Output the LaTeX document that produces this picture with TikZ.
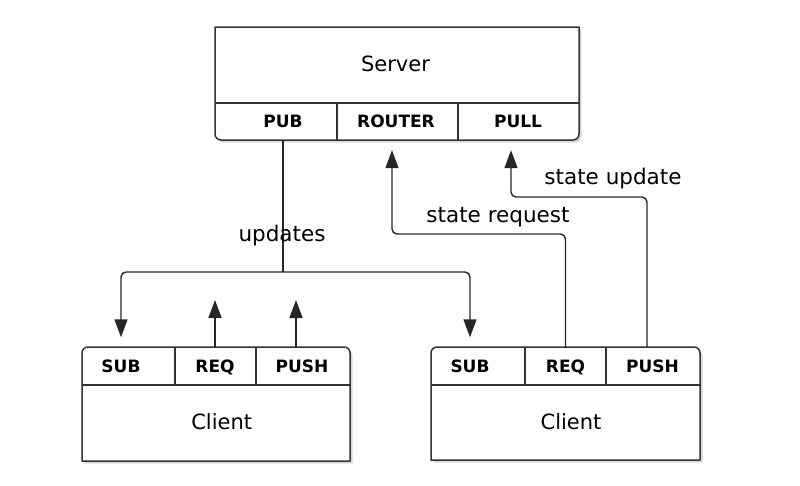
\documentclass[tikz,border=0pt]{standalone}
\usepackage{fontspec}
\setmainfont{DejaVu Sans}
\usetikzlibrary{arrows.meta,shadows}
\tikzset{
  boxshape/.style={draw=black!80,line width=1.5pt,fill=white,
    drop shadow={shadow xshift=2.5pt,shadow yshift=-2.5pt,fill=black!30}},
  divider/.style={draw=black!80,line width=1.3pt},
  boxtitle/.style={font=\fontsize{21}{25}\selectfont,anchor=base},
  socket/.style={font=\bfseries\fontsize{17}{20}\selectfont,minimum height=37pt,
    inner sep=0pt,text height=12.4pt,text depth=0pt},
  lbl/.style={font=\fontsize{21.5}{25}\selectfont,anchor=base},
  conn/.style={draw=black!85,line width=1.4pt,rounded corners=5pt},
  tip/.style={-{Triangle[length=18pt,width=13pt]}},
  gap/.style={shorten >=10pt}
}
\begin{document}
\begin{tikzpicture}[x=1pt,y=-1pt,line join=round]
  \useasboundingbox (0,0) rectangle (800,485);
  % server
  \path[boxshape] (215,80) [sharp corners] -- (215,27) -- (579,27) -- (579,80)
    [rounded corners=6pt] -- (579,140) -- (215,140) -- cycle;
  \draw[divider] (215,103) -- (579,103);
  \draw[divider] (337,103) -- (337,140);
  \draw[divider] (458,103) -- (458,140);
  \node[boxtitle] (server) at (395.5,71.7) {Server};
  \node[socket] (pub) at (283,121.5) {PUB};
  \node[socket] (router) at (396,121.5) {ROUTER};
  \node[socket] (pull) at (518,121.5) {PULL};
  % left client
  \path[boxshape] (82,400) [rounded corners=6pt] -- (82,347) -- (350,347) -- (350,400)
    [sharp corners] -- (350,461) -- (82,461) -- cycle;
  \draw[divider] (82,385) -- (350,385);
  \draw[divider] (175,347) -- (175,385);
  \draw[divider] (256,347) -- (256,385);
  \node[boxtitle] (clientA) at (221.7,429) {Client};
  \node[socket] (subA) at (121,366) {SUB};
  \node[socket] (reqA) at (215,366) {REQ};
  \node[socket] (pushA) at (302,366) {PUSH};
  % right client
  \path[boxshape] (431,400) [rounded corners=6pt] -- (431,347) -- (700,347) -- (700,400)
    [sharp corners] -- (700,460) -- (431,460) -- cycle;
  \draw[divider] (431,385) -- (700,385);
  \draw[divider] (525,347) -- (525,385);
  \draw[divider] (606,347) -- (606,385);
  \node[boxtitle] (clientB) at (571,429) {Client};
  \node[socket] (subB) at (470,366) {SUB};
  \node[socket] (reqB) at (565.5,366) {REQ};
  \node[socket] (pushB) at (652.5,366) {PUSH};
  % updates
  \coordinate (split) at (283,272);
  \draw[conn] (pub.south) -- (split);
  \draw[conn,tip,gap] (split) -| (subA.north);
  \draw[conn,tip,gap] (split) -| (subB.north);
  \node[lbl] (updlbl) at (282,241) {updates};
  % state request
  \coordinate (reqturn) at (392,234);
  \draw[conn,tip,gap] (reqB.north) |- (reqturn) -- (reqturn |- router.south);
  \node[lbl] (reqlbl) at (498,222) {state request};
  % state update
  \coordinate (updturn) at (511,197);
  \draw[conn,tip,gap] ([xshift=-5.5pt]pushB.north) |- (updturn) -- (updturn |- pull.south);
  \node[lbl] (updstatelbl) at (613,184) {state update};
  % left client outgoing
  \coordinate (reqAend) at (215,300);
  \coordinate (pushAend) at (296,300);
  \draw[conn,tip] (reqA.north) -- (reqAend);
  \draw[conn,tip] (pushAend |- pushA.north) -- (pushAend);
\end{tikzpicture}
\end{document}
